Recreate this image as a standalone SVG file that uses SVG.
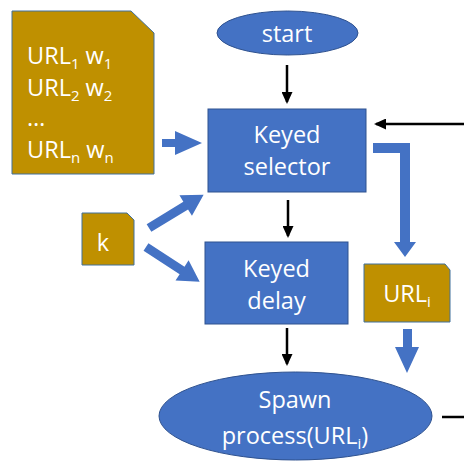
<svg xmlns="http://www.w3.org/2000/svg" xmlns:xlink="http://www.w3.org/1999/xlink" width="464" height="461" viewBox="0 0 464 461">
<style>
  .blue { fill: #4472C4; stroke: #2F528F; stroke-width: 1; }
  .doc { fill: #BF9000; stroke: #41719C; stroke-width: 1; }
  .t { font-family: "Open Sans", "Liberation Sans", sans-serif; fill: #FFFFFF; font-size: 23.5px; }
  .c { text-anchor: middle; }
  .sub { font-size: 15px; }
  .line { stroke: #000000; stroke-width: 2.5; fill: none; }
  .blk { fill: #4472C4; stroke: none; }
</style>
<defs>
  <marker id="ahb" markerWidth="12" markerHeight="11" refX="10" refY="5.5" orient="auto" markerUnits="userSpaceOnUse" viewBox="0 0 12 11">
    <path d="M0,0 L12,5.5 L0,11 Z" fill="#000000"/>
  </marker>
  <path id="bigarrow" d="M0,-4.5 H43 V-12 L64,0 L43,12 V4.5 H0 Z"/>
</defs>

<g id="connectors">
  <line class="line" x1="287" y1="65" x2="287" y2="102" marker-end="url(#ahb)"/>
  <line class="line" x1="288" y1="200" x2="288" y2="236" marker-end="url(#ahb)"/>
  <line class="line" x1="287" y1="328" x2="287" y2="364" marker-end="url(#ahb)"/>
  <line class="line" x1="464" y1="124" x2="376" y2="124" marker-end="url(#ahb)"/>
  <line class="line" x1="442" y1="417" x2="464" y2="417"/>
  <path class="blk" d="M162,139 H175 V131 L202,143 L175,155 V147 H162 Z"/>
  <use xlink:href="#bigarrow" class="blk" transform="translate(149,228) rotate(-31.4)"/>
  <use xlink:href="#bigarrow" class="blk" transform="translate(146,247) rotate(33)"/>
  <path class="blk" d="M373,143 H410 V242 H416 L405,257 L394,242 H400 V153 H373 Z"/>
  <path class="blk" d="M403,329 H412 V347 H419 L407,373 L395,347 H403 Z"/>
</g>

<g id="urllist">
  <path class="doc" d="M12,11 H131 L154,33 V174 H12 Z"/>
  <text class="t" x="27" y="64">URL<tspan class="sub" dy="5">1</tspan><tspan dy="-5"> w</tspan><tspan class="sub" dy="5">1</tspan></text>
  <text class="t" x="27" y="96">URL<tspan class="sub" dy="5">2</tspan><tspan dy="-5"> w</tspan><tspan class="sub" dy="5">2</tspan></text>
  <text class="t" x="27" y="126">…</text>
  <text class="t" x="27" y="158">URL<tspan class="sub" dy="5">n</tspan><tspan dy="-5"> w</tspan><tspan class="sub" dy="5">n</tspan></text>
</g>

<g id="start">
  <ellipse class="blue" cx="287.5" cy="33" rx="70.5" ry="22"/>
  <text class="t c" x="287" y="42">start</text>
</g>

<g id="selector">
  <rect class="blue" x="208" y="109" width="158" height="83"/>
  <text class="t c" x="287" y="143">Keyed</text>
  <text class="t c" x="287" y="175">selector</text>
</g>

<g id="k">
  <path class="doc" d="M82,213 H127 L134,220 V265 H82 Z"/>
  <text class="t c" x="103" y="251">k</text>
</g>

<g id="delay">
  <rect class="blue" x="205" y="242" width="143" height="82"/>
  <text class="t c" x="276.5" y="277">Keyed</text>
  <text class="t c" x="276.5" y="309">delay</text>
</g>

<g id="urli">
  <path class="doc" d="M364,264 H445 L450,270 V322 H364 Z"/>
  <text class="t c" x="407" y="302">URL<tspan class="sub" dy="5">i</tspan></text>
</g>

<g id="spawn">
  <ellipse class="blue" cx="295.5" cy="416" rx="136.5" ry="44"/>
  <text class="t c" x="295" y="408">Spawn</text>
  <text class="t c" x="295" y="444">process(URL<tspan class="sub" dy="5">i</tspan><tspan dy="-5">)</tspan></text>
</g>
</svg>
